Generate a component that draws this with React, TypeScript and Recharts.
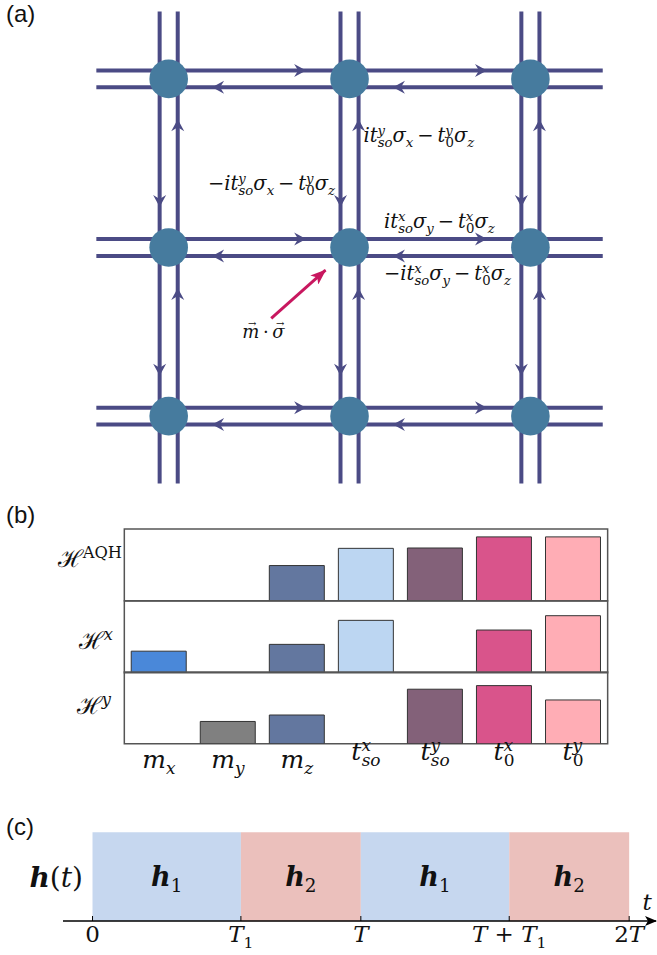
import React from "react";
import {
  ScatterChart,
  Scatter,
  XAxis,
  YAxis,
  ReferenceLine,
  ReferenceArea,
  BarChart,
  Bar,
  Cell,
  LabelList,
} from "recharts";

// ---------- (a) lattice ----------
const latticeCols = [0, 1, 2];
const latticeRows = [0, 1, 2];
const arrowAt = 0.76; // arrow tip position along each bond
const stub = 0.4; // lines run this far past the outer sites
const gap = 0.05; // half distance between the two lines of a bond
const fieldTail = { x: 0.567, y: 1.42 };
const fieldTip = { x: 0.867, y: 1.134 };

// ---------- (b) weights ----------
const terms = ["mx", "my", "mz", "tsox", "tsoy", "t0x", "t0y"];
const termColors = ["#4a88d9", "#808080", "#63779f", "#bcd6f2", "#836179", "#d9548b", "#ffadb5"];
const weightsAQH = [0, 0, 0.49, 0.73, 0.735, 0.89, 0.89];
const weightsX = [0.3, 0, 0.395, 0.73, 0, 0.595, 0.795];
const weightsY = [0, 0.31, 0.4, 0, 0.76, 0.81, 0.61];
const rowSups = ["AQH", "x", "y"];

// ---------- (c) drive ----------
const T1 = 0.553;
const stepIdx = ["1", "2", "1", "2"];
const stepLengths = [T1, 1 - T1, T1, 1 - T1];
const stepColors = ["#c6d7ef", "#ebc0bc", "#c6d7ef", "#ebc0bc"];
const timeTicks = [0, T1, 1, 1 + T1, 2];
const timeTickLabels = ["0", "T_1", "T", "T + T_1", "2T"];

const SERIF = "'DejaVu Serif', 'Liberation Serif', serif";
const SANS = "'Liberation Sans', Arial, sans-serif";
const LINE = "#4b4b85";
const SITE = "#467b9e";
const FIELD = "#c8175f";
const TH = "\u2009"; // thin space around binary operators

type Tok = { t: string; it?: boolean; bold?: boolean; sup?: string; sub?: string; vec?: number };

const italicOf = (s: string) => (/[a-z]/.test(s) ? "italic" : "normal");

function MathText({
  x, y, toks, size, anchor = "start", family = SERIF,
}: { x: number; y: number; toks: Tok[]; size: number; anchor?: string; family?: string }) {
  const small = size * 0.68;
  const up = size * 0.36;
  const down = size * 0.24;
  const spans: React.ReactNode[] = [];
  let carry = 0;
  let carryDx = 0;
  toks.forEach((k, i) => {
    spans.push(
      <tspan
        key={`b${i}`}
        dx={carryDx}
        dy={carry}
        fontStyle={k.it ? "italic" : "normal"}
        fontWeight={k.bold ? "bold" : "normal"}
      >
        {k.t}
      </tspan>
    );
    carry = 0;
    carryDx = 0;
    if (k.vec) {
      const w = k.vec * size;
      const vs = size * 0.55;
      const aw = 0.838 * vs;
      const lift = size * 0.62;
      spans.push(
        <tspan key={`v${i}`} dx={-(w + aw) / 2 + size * 0.08} dy={-lift} fontSize={vs}>
          →
        </tspan>
      );
      carryDx = (w - aw) / 2 - size * 0.08;
      carry = lift;
    }
    if (k.sup && k.sub) {
      spans.push(<tspan key={`p${i}`} dy={-up} fontSize={small} fontStyle={italicOf(k.sup)}>{k.sup}</tspan>);
      spans.push(
        <tspan key={`s${i}`} dx={-k.sup.length * small * 0.55} dy={up + down} fontSize={small} fontStyle={italicOf(k.sub)}>
          {k.sub}
        </tspan>
      );
      carry = -down;
    } else if (k.sup) {
      spans.push(<tspan key={`p${i}`} dy={-up} fontSize={small} fontStyle={italicOf(k.sup)}>{k.sup}</tspan>);
      carry = up;
    } else if (k.sub) {
      spans.push(<tspan key={`s${i}`} dy={down} fontSize={small} fontStyle={italicOf(k.sub)}>{k.sub}</tspan>);
      carry = -down;
    }
  });
  return (
    <text x={x} y={y} fontSize={size} fontFamily={family} textAnchor={anchor as any} fill="#111" style={{ whiteSpace: "pre" }}>
      {spans}
    </text>
  );
}

const hop = (sign: string, a: string, s: string): Tok[] => [
  { t: sign },
  { t: "it", it: true, sup: a, sub: "so" },
  { t: "σ", it: true, sub: s },
  { t: `${TH}−${TH}` },
  { t: "t", it: true, sup: a, sub: "0" },
  { t: "σ", it: true, sub: "z" },
];

const hopLabels = [
  { x: 1.077, y: 0.376, toks: hop("", "y", "x") },
  { x: 0.217, y: 0.659, toks: hop("−", "y", "x") },
  { x: 1.19, y: 0.886, toks: hop("", "x", "y") },
  { x: 1.19, y: 1.193, toks: hop("−", "x", "y") },
];

const sites = latticeRows.flatMap((r) => latticeCols.map((c) => ({ x: c, y: r })));
const xLo = -stub;
const xHi = latticeCols[latticeCols.length - 1] + stub;
const yLo = -stub;
const yHi = latticeRows[latticeRows.length - 1] + stub;
const bondLines = [
  ...latticeRows.flatMap((r) => [r - gap, r + gap].map((y) => [{ x: xLo, y }, { x: xHi, y }])),
  ...latticeCols.flatMap((c) => [c - gap, c + gap].map((x) => [{ x, y: yLo }, { x, y: yHi }])),
];
const bondArrows = [
  ...latticeRows.flatMap((r) =>
    latticeCols.slice(0, -1).flatMap((c) => [
      { x: c + arrowAt, y: r - gap, angle: 0 },
      { x: c + 1 - arrowAt, y: r + gap, angle: 180 },
    ])
  ),
  ...latticeCols.flatMap((c) =>
    latticeRows.slice(0, -1).flatMap((r) => [
      { x: c - gap, y: r + arrowAt, angle: 90 },
      { x: c + gap, y: r + 1 - arrowAt, angle: -90 },
    ])
  ),
];

const termToks: Tok[][] = [
  [{ t: "m", it: true, sub: "x" }],
  [{ t: "m", it: true, sub: "y" }],
  [{ t: "m", it: true, sub: "z" }],
  [{ t: "t", it: true, sup: "x", sub: "so" }],
  [{ t: "t", it: true, sup: "y", sub: "so" }],
  [{ t: "t", it: true, sup: "x", sub: "0" }],
  [{ t: "t", it: true, sup: "y", sub: "0" }],
];

const tickToks: Tok[][] = timeTickLabels.map((l) => {
  if (l === "T_1") return [{ t: "T", it: true, sub: "1" }];
  if (l === "T + T_1") return [{ t: "T", it: true }, { t: " + " }, { t: "T", it: true, sub: "1" }];
  if (l === "2T") return [{ t: "2" }, { t: "T", it: true }];
  if (l === "T") return [{ t: "T", it: true }];
  return [{ t: l }];
});

// layout of panel (b)
const B_LEFT = 124.3;
const B_W = 483.4;
const B_TOP = 529;
const B_ROW = 71.7;
const labelRight = [122, 113, 111];
const labelBase = [38, 48, 42];

function WeightRow({ row, values }: { row: number; values: number[] }) {
  const last = row === 2;
  const data = terms.map((t, i) => ({ term: t, v: values[i] }));
  const xh = last ? 44 : 1;
  return (
    <div style={{ position: "absolute", left: 0, top: B_TOP + row * B_ROW - 2 }}>
      <BarChart
        width={B_LEFT + B_W + 4}
        height={B_ROW + xh + 4}
        data={data}
        margin={{ top: 2, right: 4, bottom: 2, left: 0 }}
        barCategoryGap="10%"
      >
        <XAxis
          dataKey="term"
          height={xh}
          interval={0}
          tickLine={false}
          tickSize={0}
          tickMargin={0}
          axisLine={false}
          tick={
            last
              ? (p: any) => (
                  <MathText
                    x={p.x}
                    y={p.y + (termToks[p.index][0].sup ? 16 : 24)}
                    toks={termToks[p.index]}
                    size={25}
                    anchor="middle"
                  />
                )
              : false
          }
        />
        <YAxis width={B_LEFT} domain={[0, 1]} allowDataOverflow tick={false} tickLine={false} axisLine={false} />
        <ReferenceArea
          y1={0}
          y2={1}
          fill="none"
          stroke="#555"
          strokeWidth={1.5}
          ifOverflow="visible"
          label={{
            content: (p: any) => (
              <MathText
                x={labelRight[row]}
                y={p.viewBox.y + labelBase[row]}
                toks={[{ t: "ℋ", sup: rowSups[row] }]}
                size={24}
                anchor="end"
              />
            ),
          }}
        />
        <Bar dataKey="v" isAnimationActive={false} stroke="#333" strokeWidth={1}>
          {data.map((_, i) => (
            <Cell key={i} fill={termColors[i]} />
          ))}
        </Bar>
      </BarChart>
    </div>
  );
}

export default function App() {
  const protocol = [{ row: "h", ...Object.fromEntries(stepLengths.map((v, i) => [`s${i}`, v])) }];

  return (
    <div style={{ position: "absolute", left: 0, top: 0, width: 657, height: 955, overflow: "hidden", background: "#fff" }}>
      <svg width={0} height={0} style={{ position: "absolute" }}>
        <defs>
          <marker id="fieldHead" viewBox="0 0 16 12" refX="15" refY="6" markerWidth="16" markerHeight="12" markerUnits="userSpaceOnUse" orient="auto">
            <path d="M0,0 L16,6 L0,12 L4,6 Z" fill={FIELD} />
          </marker>
          <marker id="timeHead" viewBox="0 0 12 10" refX="11" refY="5" markerWidth="12" markerHeight="10" markerUnits="userSpaceOnUse" orient="auto">
            <path d="M0,0 L12,5 L0,10 L3,5 Z" fill="#000" />
          </marker>
        </defs>
      </svg>

      {["(a)", "(b)", "(c)"].map((s, i) => (
        <div
          key={s}
          style={{ position: "absolute", left: 6, top: [1, 502, 814][i], fontFamily: SANS, fontSize: 24, lineHeight: "26px", color: "#111" }}
        >
          {s}
        </div>
      ))}

      {/* (a) */}
      <div style={{ position: "absolute", left: 24, top: 3 }}>
        <ScatterChart width={633} height={489} margin={{ top: 0, right: 0, bottom: 0, left: 0 }}>
          <XAxis type="number" dataKey="x" domain={[-0.8, 2.7]} allowDataOverflow hide />
          <YAxis type="number" dataKey="y" domain={[-0.45, 2.45]} allowDataOverflow reversed hide />
          {bondLines.map((seg, i) => (
            <ReferenceLine key={i} segment={seg} stroke={LINE} strokeWidth={4} ifOverflow="visible" />
          ))}
          <ReferenceLine
            segment={[fieldTail, fieldTip]}
            stroke={FIELD}
            strokeWidth={3}
            ifOverflow="visible"
            markerEnd="url(#fieldHead)"
          />
          <Scatter
            data={bondArrows}
            isAnimationActive={false}
            shape={(p: any) => (
              <path
                transform={`translate(${p.cx},${p.cy}) rotate(${p.payload.angle})`}
                d="M0,0 L-12,-6.5 L-8,0 L-12,6.5 Z"
                fill={LINE}
              />
            )}
          />
          <Scatter
            data={sites}
            isAnimationActive={false}
            shape={(p: any) => <circle cx={p.cx} cy={p.cy} r={19.3} fill={SITE} />}
          />
          <Scatter
            data={hopLabels}
            isAnimationActive={false}
            shape={(p: any) => <MathText x={p.cx} y={p.cy} toks={p.payload.toks} size={19.5} />}
          />
          <Scatter
            data={[{ x: 0.407, y: 1.539 }]}
            isAnimationActive={false}
            shape={(p: any) => (
              <MathText
                x={p.cx}
                y={p.cy}
                toks={[
                  { t: "m", it: true, vec: 0.95 },
                  { t: `${TH}·${TH}` },
                  { t: "σ", it: true, vec: 0.64 },
                ]}
                size={18}
              />
            )}
          />
        </ScatterChart>
      </div>

      {/* (b) */}
      <WeightRow row={0} values={weightsAQH} />
      <WeightRow row={1} values={weightsX} />
      <WeightRow row={2} values={weightsY} />

      {/* (c) */}
      <div style={{ position: "absolute", left: 0, top: 830 }}>
        <BarChart
          layout="vertical"
          width={657}
          height={125}
          data={protocol}
          margin={{ top: 2.3, right: 1, bottom: 0, left: 0 }}
          barCategoryGap={0}
        >
          <XAxis
            type="number"
            domain={[-0.11, 2.1]}
            allowDataOverflow
            ticks={timeTicks}
            interval={0}
            height={34}
            tickSize={0}
            tickMargin={0}
            tickLine={false}
            axisLine={{ stroke: "#000", strokeWidth: 1.5, markerEnd: "url(#timeHead)" } as any}
            tick={(p: any) => {
              const i = timeTicks.indexOf(p.payload.value);
              return (
                <g>
                  <line x1={p.x} x2={p.x} y1={p.y - 5} y2={p.y} stroke="#000" strokeWidth={1} />
                  <MathText x={p.x} y={p.y + 21} toks={tickToks[i < 0 ? p.index : i]} size={23} anchor="middle" />
                </g>
              );
            }}
            label={{
              content: (p: any) => (
                <MathText x={p.viewBox.x + p.viewBox.width - 9} y={p.viewBox.y - 11} toks={[{ t: "t", it: true }]} size={23} anchor="middle" />
              ),
            }}
          />
          <YAxis
            type="category"
            dataKey="row"
            width={63}
            axisLine={false}
            tickLine={false}
            tickSize={0}
            tickMargin={0}
            tick={(p: any) => (
              <MathText
                x={p.x + 20}
                y={p.y + 10}
                toks={[{ t: "h", it: true, bold: true }, { t: "(" }, { t: "t", it: true }, { t: ")" }]}
                size={28}
                anchor="end"
              />
            )}
          />
          {stepLengths.map((_, i) => (
            <Bar key={i} dataKey={`s${i}`} stackId="drive" fill={stepColors[i]} isAnimationActive={false}>
              <LabelList
                content={(p: any) => (
                  <MathText
                    x={p.x + p.width / 2}
                    y={p.y + p.height / 2 + 9}
                    toks={[{ t: "h", it: true, bold: true, sub: stepIdx[i] }]}
                    size={27}
                    anchor="middle"
                  />
                )}
              />
            </Bar>
          ))}
        </BarChart>
      </div>
    </div>
  );
}
